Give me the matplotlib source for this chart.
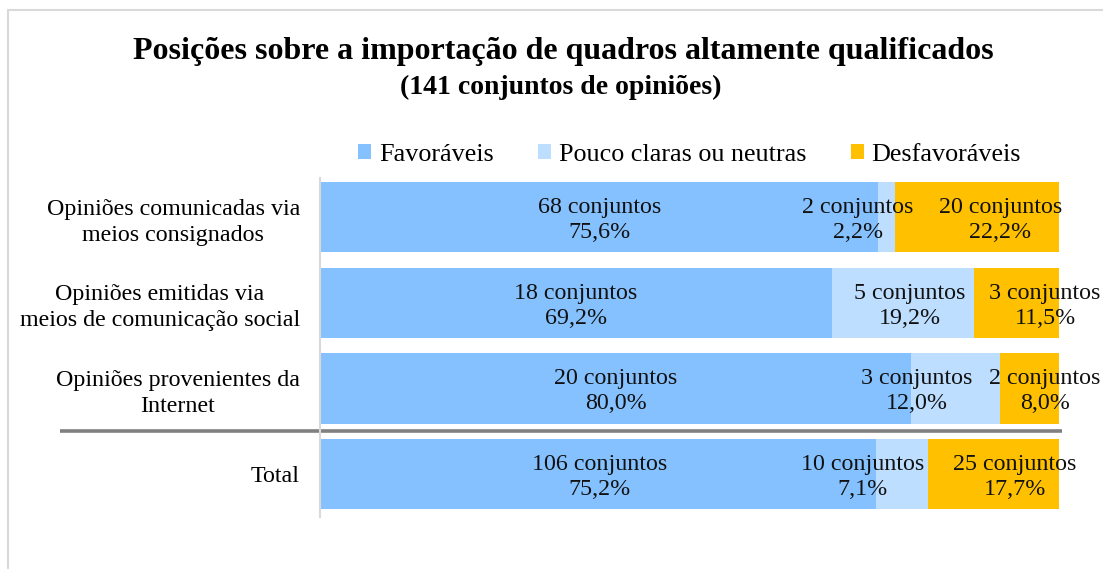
import numpy as np
import matplotlib
matplotlib.use('Agg')
import matplotlib.pyplot as plt
from matplotlib.patches import Rectangle

# dados
categorias = ['Opiniões comunicadas via\nmeios consignados',
              'Opiniões emitidas via\nmeios de comunicação social',
              'Opiniões provenientes da\nInternet',
              'Total']
favoraveis = [68, 18, 20, 106]
neutras = [2, 5, 3, 10]
desfavoraveis = [20, 3, 2, 25]

series_nomes = ['Favoráveis', 'Pouco claras ou neutras', 'Desfavoráveis']
cores = ['#85C1FF', '#BDDEFF', '#FFC000']

# deslocamento dos rótulos (pontos percentuais) como no original
desloc = [[0, -3.9, 3.2],
          [0, 1.0, 3.9],
          [0, -5.2, 2.1],
          [0.3, -5.3, 2.9]]

plt.rcParams['font.family'] = ['Liberation Serif', 'DejaVu Serif']

contagens = np.array([favoraveis, neutras, desfavoraveis], dtype=float).T
totais = contagens.sum(axis=1, keepdims=True)
pct = contagens / totais * 100

fig = plt.figure(figsize=(11.03, 5.69), dpi=100)
ax = fig.add_axes([320 / 1103, 1 - 517 / 569, 739 / 1103, 339 / 569])

y = np.arange(len(categorias))
esq = np.zeros(len(categorias))
for j in range(3):
    ax.barh(y, pct[:, j], left=esq, height=0.82, color=cores[j],
            label=series_nomes[j], linewidth=0)
    for i in range(len(categorias)):
        cx = esq[i] + pct[i, j] / 2 + desloc[i][j]
        txt = f'{int(contagens[i, j])} conjuntos\n' + f'{pct[i, j]:.1f}%'.replace('.', ',')
        ax.text(cx, y[i] + 0.03, txt, ha='center', va='center', fontsize=17.3,
                linespacing=1.25, color='#111111')
    esq += pct[:, j]

ax.set_xlim(0, 100)
ax.set_ylim(3.5, -0.46)
ax.set_yticks(y)
ax.set_yticklabels(categorias, fontsize=17.3, ha='right', multialignment='center',
                   linespacing=1.3)
ax.tick_params(axis='y', length=0, pad=14.4)
ax.set_xticks([])
for s in ['top', 'right', 'bottom']:
    ax.spines[s].set_visible(False)
ax.spines['left'].set_color('#D9D9D9')
ax.spines['left'].set_linewidth(1.5)

# linha separadora antes do total
ax.plot([-0.352, 1.004], [2.5, 2.5], transform=ax.get_yaxis_transform(),
        clip_on=False, color='#808080', linewidth=2.6, solid_capstyle='butt')

ax.legend(loc='center', bbox_to_anchor=(0.5, 1.068), ncol=3, frameon=False,
          fontsize=18.8, handlelength=0.5, handleheight=0.5, handletextpad=0.3,
          columnspacing=1.7, borderaxespad=0, borderpad=0)

fig.text(563 / 1103, 1 - 52 / 569, 'Posições sobre a importação de quadros altamente qualificados',
         ha='center', va='center', fontsize=23, fontweight='bold')
fig.text(561 / 1103, 1 - 87 / 569, '(141 conjuntos de opiniões)',
         ha='center', va='center', fontsize=20, fontweight='bold')

# moldura
fig.patches.append(Rectangle((8 / 1103, -0.05), 1.2, 1 - 10 / 569 + 0.05,
                             transform=fig.transFigure, fill=False,
                             edgecolor='#D9D9D9', linewidth=1.5))

fig.savefig('out.png', dpi=100)
